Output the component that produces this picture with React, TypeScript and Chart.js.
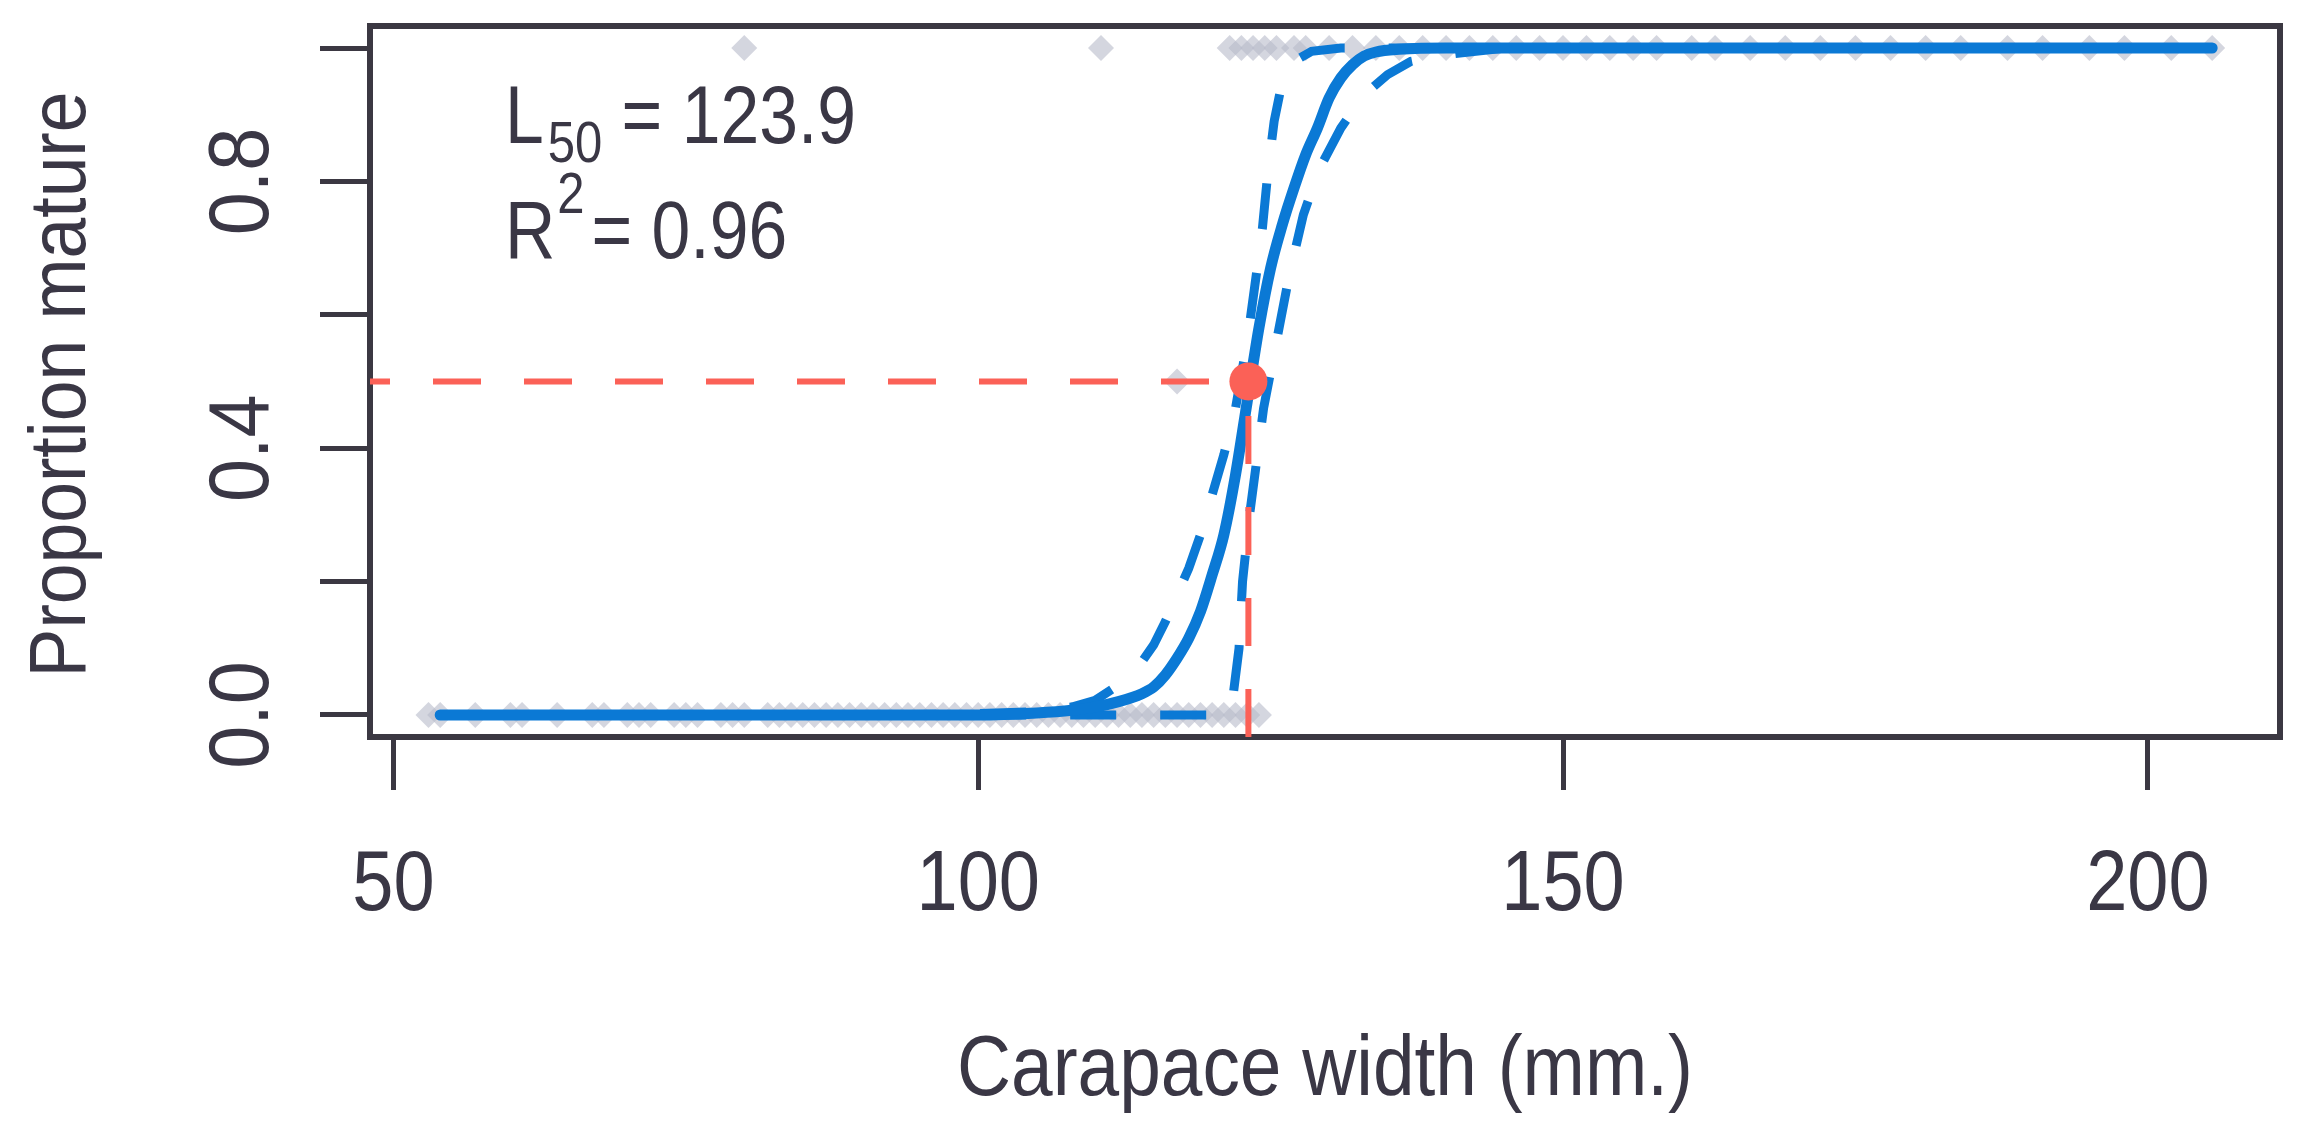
import React, { useEffect, useRef } from "react";
import { Chart, registerables } from "chart.js";

Chart.register(...registerables);

// ---------- data ----------
const xTicks = [50, 100, 150, 200];
const xTickLabels = ["50", "100", "150", "200"];
const yTicks = [0, 0.2, 0.4, 0.6, 0.8, 1.0];
const yTickLabels = ["0.0", "", "0.4", "", "0.8", ""];

const xTitle = "Carapace width (mm.)";
const yTitle = "Proportion mature";

const annoL = "L";
const annoLSub = "50";
const annoLRest = " = 123.9";
const annoR = "R";
const annoRSup = "2";
const annoRRest = "= 0.96";

// observations (proportion mature by individual)
const immatureX = [53, 54, 57, 60, 61, 64, 67, 68, 70, 71, 72, 74, 75, 76, 78, 79, 80, 82, 83, 84, 85, 86, 87, 88, 89, 90, 91, 92, 93, 94, 95, 96, 97, 98, 99, 100, 101, 102, 103, 104, 105, 106, 107, 108, 109, 110, 111, 112, 113, 114, 115, 116, 117, 118, 119, 120, 121, 122, 123, 124];
const matureX = [80, 110.5, 121.5, 122.5, 123.5, 124.5, 125.5, 127, 128, 130, 132, 134, 136, 138, 140, 142, 144, 146, 148, 150, 152, 154, 156, 158, 161, 163, 166, 169, 172, 175, 178, 181, 184, 188, 191, 195, 198, 202, 205.5];
const halfX = [117];
const halfY = [0.5];

// fitted logistic curve
const fitX = [54, 60, 70, 80, 90, 100, 105, 108, 110, 112, 114, 115, 116, 117, 118, 119, 120, 121, 122, 123, 124, 125, 126, 127, 128, 129, 130, 131, 132, 133, 134, 136, 140, 160, 180, 205.5];
const fitY = [0, 0, 0, 0, 0, 0, 0.003, 0.007, 0.012, 0.02, 0.032, 0.042, 0.06, 0.085, 0.115, 0.155, 0.21, 0.27, 0.36, 0.47, 0.58, 0.67, 0.735, 0.79, 0.84, 0.88, 0.925, 0.955, 0.975, 0.988, 0.994, 0.998, 1, 1, 1, 1];

// upper confidence bound (left dashed)
const upperX = [54, 70, 90, 100, 105, 108, 110, 112, 113, 114, 115, 116, 117, 118, 119, 120, 121, 122, 123, 123.7, 124.3, 124.8, 125.3, 126, 127, 128.5, 131, 160, 205.5];
const upperY = [0, 0, 0, 0.002, 0.005, 0.012, 0.022, 0.045, 0.06, 0.08, 0.105, 0.14, 0.18, 0.22, 0.27, 0.33, 0.39, 0.46, 0.56, 0.65, 0.73, 0.82, 0.89, 0.95, 0.98, 0.995, 1, 1, 1];

// lower confidence bound (right dashed)
const lowerX = [54, 80, 100, 110, 121, 121.8, 122.3, 122.6, 123.2, 123.8, 124.4, 125.5, 126.6, 127.8, 129.2, 131, 133, 135, 137, 140, 145, 170, 205.5];
const lowerY = [0, 0, 0, 0, 0, 0.03, 0.1, 0.2, 0.3, 0.38, 0.46, 0.56, 0.66, 0.75, 0.82, 0.88, 0.93, 0.96, 0.98, 0.99, 1, 1, 1];

// L50 marker
const l50X = [123.1];
const l50Y = [0.5];

const xRange = [48, 211.3];
const yRange = [-0.033, 1.033];

// ---------- styling ----------
const FAM = "'Liberation Sans', Arial, Helvetica, sans-serif";
const INK = "#3a3745";
const BOX = "#3b3842";
const BLUE = "#0b79d5";
const RED = "#fb6157";
const GREY = "rgba(184,187,202,0.6)";

const zip = (xs: number[], ys: number[]) => xs.map((x, i) => ({ x, y: ys[i] }));

// condensed text: natural width squeezed by factor k via fillText's maxWidth
function cText(ctx: CanvasRenderingContext2D, t: string, x: number, y: number, k: number) {
  const w = ctx.measureText(t).width;
  ctx.fillText(t, x, y, w * k);
  return w * k;
}

const boxPlugin = {
  id: "rbox",
  beforeDatasetsDraw(chart: any) {
    const { ctx, chartArea } = chart;
    ctx.save();
    ctx.strokeStyle = BOX;
    ctx.lineWidth = 6;
    ctx.strokeRect(chartArea.left, chartArea.top, chartArea.right - chartArea.left, chartArea.bottom - chartArea.top);
    ctx.restore();
  },
};

const textPlugin = {
  id: "rtext",
  afterDraw(chart: any) {
    const { ctx, chartArea, scales } = chart;
    const xs = scales.x;
    const ys = scales.y;
    ctx.save();
    ctx.fillStyle = INK;

    // x tick labels
    ctx.font = `86px ${FAM}`;
    ctx.textAlign = "center";
    ctx.textBaseline = "alphabetic";
    xTicks.forEach((v, i) => {
      cText(ctx, xTickLabels[i], xs.getPixelForValue(v), chartArea.bottom + 173, 0.86);
    });

    // y tick labels (rotated, reading upward)
    yTicks.forEach((v, i) => {
      const lab = yTickLabels[i];
      if (!lab) return;
      ctx.save();
      ctx.translate(chartArea.left - 102, ys.getPixelForValue(v));
      ctx.rotate(-Math.PI / 2);
      ctx.font = `86px ${FAM}`;
      ctx.textAlign = "center";
      cText(ctx, lab, 0, 0, 0.9);
      ctx.restore();
    });

    // x title
    ctx.font = `86px ${FAM}`;
    ctx.textAlign = "center";
    cText(ctx, xTitle, (chartArea.left + chartArea.right) / 2, chartArea.bottom + 358, 0.87);

    // y title
    ctx.save();
    ctx.translate(chartArea.left - 285, (chartArea.top + chartArea.bottom) / 2 + 3);
    ctx.rotate(-Math.PI / 2);
    ctx.font = `80px ${FAM}`;
    ctx.textAlign = "center";
    cText(ctx, yTitle, 0, 0, 0.915);
    ctx.restore();

    // annotation
    ctx.textAlign = "left";
    const x0 = chartArea.left + 135;
    const b1 = chartArea.top + 117;
    const b2 = chartArea.top + 232;
    const big = `81px ${FAM}`;
    const small = `57px ${FAM}`;
    ctx.font = big;
    let x = x0 + cText(ctx, annoL, x0, b1, 0.86) + 4;
    ctx.font = small;
    x += cText(ctx, annoLSub, x, b1 + 19, 0.86);
    ctx.font = big;
    cText(ctx, annoLRest, x, b1, 0.86);

    ctx.font = big;
    x = x0 + cText(ctx, annoR, x0, b2, 0.86) + 2;
    ctx.font = small;
    x += cText(ctx, annoRSup, x, b2 - 45, 0.86) + 7;
    ctx.font = big;
    cText(ctx, annoRRest, x, b2, 0.86);

    ctx.restore();
  },
};

export default function App() {
  const ref = useRef<HTMLCanvasElement | null>(null);

  useEffect(() => {
    const canvas = ref.current;
    if (!canvas) return;
    const dash = [46, 44];
    const pts = (data: any[]) => ({
      data,
      pointStyle: "rectRot",
      pointRadius: 13,
      backgroundColor: GREY,
      borderWidth: 0,
      order: 6,
    });
    const chart = new Chart(canvas, {
      type: "scatter",
      data: {
        datasets: [
          { label: "immature", ...pts(immatureX.map((x) => ({ x, y: 0 }))) },
          { label: "mature", ...pts(matureX.map((x) => ({ x, y: 1 }))) },
          { label: "half", ...pts(zip(halfX, halfY)) },
          {
            label: "upper",
            data: zip(upperX, upperY),
            showLine: true,
            pointRadius: 0,
            borderColor: BLUE,
            borderWidth: 9,
            borderDash: dash,
            borderCapStyle: "butt",
            tension: 0,
            order: 4,
          },
          {
            label: "lower",
            data: zip(lowerX, lowerY),
            showLine: true,
            pointRadius: 0,
            borderColor: BLUE,
            borderWidth: 9,
            borderDash: dash,
            borderCapStyle: "butt",
            tension: 0,
            order: 4,
          },
          {
            label: "fit",
            data: zip(fitX, fitY),
            showLine: true,
            pointRadius: 0,
            borderColor: BLUE,
            borderWidth: 11,
            borderCapStyle: "round",
            borderJoinStyle: "round",
            cubicInterpolationMode: "monotone",
            order: 3,
          },
          {
            label: "l50h",
            data: [
              { x: xRange[0], y: l50Y[0] },
              { x: l50X[0], y: l50Y[0] },
            ],
            showLine: true,
            pointRadius: 0,
            borderColor: RED,
            borderWidth: 6,
            borderDash: [48, 43],
            borderDashOffset: 28,
            order: 2,
          },
          {
            label: "l50v",
            data: [
              { x: l50X[0], y: yRange[0] },
              { x: l50X[0], y: l50Y[0] },
            ],
            showLine: true,
            pointRadius: 0,
            borderColor: RED,
            borderWidth: 6,
            borderDash: [48, 43],
            order: 2,
          },
          {
            label: "l50",
            data: zip(l50X, l50Y),
            pointStyle: "circle",
            pointRadius: 19,
            backgroundColor: RED,
            borderWidth: 0,
            order: 1,
          },
        ],
      },
      options: {
        animation: false,
        responsive: false,
        devicePixelRatio: 1,
        layout: { padding: { top: 26, right: 33, left: 0, bottom: 0 } },
        plugins: {
          legend: { display: false },
          tooltip: { enabled: false },
        },
        scales: {
          x: {
            type: "linear",
            position: "bottom",
            min: xRange[0],
            max: xRange[1],
            afterBuildTicks: (s: any) => {
              s.ticks = xTicks.map((v) => ({ value: v }));
            },
            afterFit: (s: any) => {
              s.height = 391;
              s.paddingLeft = 0;
              s.paddingRight = 0;
            },
            grid: {
              display: true,
              drawOnChartArea: false,
              drawTicks: true,
              tickLength: 53,
              tickWidth: 5,
              tickColor: BOX,
            },
            border: { display: false },
            ticks: { display: false, autoSkip: false },
            title: { display: false, text: xTitle },
          },
          y: {
            type: "linear",
            position: "left",
            min: yRange[0],
            max: yRange[1],
            afterBuildTicks: (s: any) => {
              s.ticks = yTicks.map((v) => ({ value: v }));
            },
            afterFit: (s: any) => {
              s.width = 370;
              s.paddingTop = 0;
              s.paddingBottom = 0;
            },
            grid: {
              display: true,
              drawOnChartArea: false,
              drawTicks: true,
              tickLength: 50,
              tickWidth: 5,
              tickColor: BOX,
            },
            border: { display: false },
            ticks: { display: false, autoSkip: false },
            title: { display: false, text: yTitle },
          },
        },
      } as any,
      plugins: [boxPlugin, textPlugin],
    });
    return () => chart.destroy();
  }, []);

  return (
    <canvas
      ref={ref}
      width={2313}
      height={1128}
      style={{ position: "absolute", left: 0, top: 0, width: 2313, height: 1128, background: "#ffffff" }}
    />
  );
}
